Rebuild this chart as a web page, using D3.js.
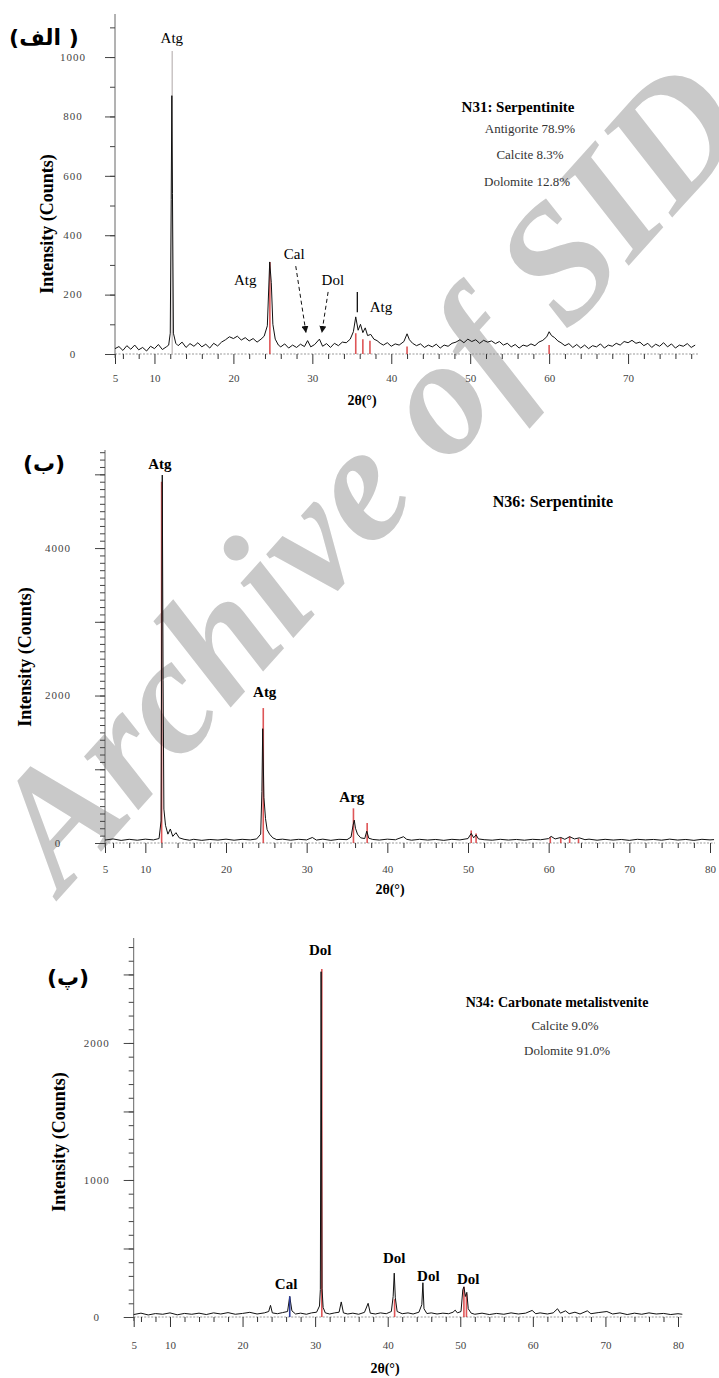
<!DOCTYPE html>
<html>
<head>
<meta charset="utf-8">
<script src="https://cdn.jsdelivr.net/npm/d3@7"></script>
<style>
body { margin: 0; background: #fff; }
svg { display: block; }
</style>
</head>
<body>
<svg id="chart" width="719" height="1378"></svg>
<script>
// ---------- data (2θ in degrees, intensity in counts) ----------

// N31 serpentinite pattern
var trace31 = [[5,18],[5.5,25],[6,12],[6.5,28],[7,16],[7.5,30],[8,14],[8.5,22],[9,10],[9.5,26],[10,18],[10.5,32],[11,15],[11.5,24],[11.8,30],
  [12.0,70],[12.12,520],[12.2,870],[12.28,540],[12.4,70],[12.7,36],[13,28],[13.5,40],[14,22],[14.5,35],[15,26],[15.5,38],[16,24],[16.5,33],[17,20],[17.5,36],[18,27],[18.5,40],
  [19,48],[19.5,58],[20,52],[20.5,60],[21,47],[21.5,55],[22,44],[22.5,52],[23,40],[23.5,50],[23.9,60],[24.3,95],[24.6,310],[24.8,240],[25.0,100],[25.3,50],[25.7,30],
  [26,24],[26.5,34],[27,20],[27.5,30],[28,22],[28.5,33],[29,25],[29.4,45],[29.8,24],[30.3,32],[30.9,50],[31.3,26],[31.8,35],[32.3,22],[32.8,36],[33.3,28],[33.8,40],
  [34.3,38],[34.8,50],[35.2,75],[35.5,125],[35.8,80],[36.1,100],[36.4,72],[36.7,88],[37.0,62],[37.4,66],[37.8,50],[38.2,45],[38.6,36],[39,30],[39.5,38],[40,26],[40.5,34],
  [41,30],[41.6,42],[42.0,68],[42.3,48],[42.7,36],[43.2,28],[43.7,34],[44.2,22],[44.7,30],[45.2,24],[45.7,33],[46.2,20],[46.7,30],[47.2,26],[47.7,36],[48.2,40],[48.7,48],
  [49.2,38],[49.7,50],[50.2,42],[50.7,48],[51.2,36],[51.7,46],[52.2,40],[52.7,44],[53.2,35],[53.7,42],[54.2,30],[54.7,36],[55.2,24],[55.7,32],[56.2,20],[56.7,30],[57.2,26],
  [57.7,34],[58.2,28],[58.7,40],[59.2,46],[59.7,58],[60.0,75],[60.3,62],[60.7,55],[61.1,44],[61.5,38],[62,28],[62.5,35],[63,22],[63.5,32],[64,20],[64.5,30],[65,18],[65.5,28],
  [66,24],[66.5,34],[67,20],[67.5,30],[68,26],[68.5,36],[69,30],[69.5,42],[70,38],[70.5,46],[71,36],[71.5,40],[72,28],[72.5,36],[73,22],[73.5,33],[74,26],[74.5,38],[75,24],
  [75.5,34],[76,20],[76.5,30],[77,26],[77.5,35],[78,22],[78.5,30]];
var ghost31 = [[12.25,1020]];
var ref31 = [[24.62,310],[35.5,70],[36.4,50],[37.3,45],[42.0,25],[60.0,30]];
var yTicks31 = [0,200,400,600,800,1000];
var xTicks31 = [5,10,20,30,40,50,60,70];
var labels31 = [["Atg",12.2,1064],["Atg",21.5,249],["Cal",27.7,337],["Dol",32.6,249],["Atg",38.7,158]];
var arrows31 = [[27.9,296,29.2,71],[32.0,209,31.2,71]];
var marks31 = [[35.7,209,141]];
var info31 = ["Antigorite 78.9%","Calcite 8.3%","Dolomite 12.8%"];

// N36 serpentinite pattern
var trace36 = [[5,40],[6,55],[7,35],[8,50],[9,38],[10,52],[11,42],[11.7,60],[11.95,300],[12.1,4990],[12.2,2200],[12.3,460],[12.5,240],[12.8,120],[13.1,190],[13.4,90],
  [13.8,140],[14.2,70],[14.8,50],[15.5,38],[16,50],[17,36],[18,48],[19,40],[20,52],[21,38],[22,50],[23,42],[23.8,55],[24.3,120],[24.45,700],[24.55,1550],[24.7,620],
  [24.9,330],[25.1,180],[25.4,120],[25.8,70],[26.3,45],[27,52],[28,38],[29,50],[30,42],[30.7,75],[31.2,40],[32,52],[33,36],[34,50],[35,45],[35.5,80],[35.75,240],
  [35.9,310],[36.05,200],[36.3,120],[36.7,70],[37.2,60],[37.45,160],[37.7,65],[38.2,48],[39,40],[40,52],[41,44],[42,85],[42.4,50],[43,38],[44,50],[45,40],[46,48],
  [47,36],[48,50],[49,42],[50,60],[50.4,130],[50.7,70],[51.0,110],[51.3,55],[52,45],[53,38],[54,50],[55,40],[56,48],[57,38],[58,50],[59,44],[60,60],[60.3,90],[60.8,55],
  [61.5,75],[62,50],[62.6,85],[63.2,55],[63.8,70],[64.5,45],[65,52],[66,38],[67,50],[68,40],[69,48],[70,36],[71,50],[72,42],[73,48],[74,38],[75,52],[76,40],[77,48],
  [78,36],[79,50],[80,42],[80.5,46]];
var ref36 = [[12.02,4900],[24.62,1830],[35.8,470],[37.5,270],[50.4,170],[51.0,130],[60.2,80],[61.5,70],[62.6,90],[63.7,60]];
var yTicks36 = [0,2000,4000];
var xTicks36 = [5,10,20,30,40,50,60,70,80];
var labels36 = [["Atg",11.8,5139],["Atg",24.8,2047],["Arg",35.6,624]];

// N34 carbonate pattern
var trace34 = [[5,18],[6,28],[7,15],[8,25],[9,20],[10,30],[11,16],[12,26],[13,20],[14,28],[15,18],[16,30],[17,22],[18,32],[19,20],[20,26],[21,34],[22,22],[23,30],
  [23.6,40],[23.85,85],[24.1,30],[24.8,24],[25.5,32],[26.2,40],[26.5,150],[26.8,45],[27.3,22],[28,28],[28.8,20],[29.5,30],[30.2,35],[30.6,80],[30.72,200],[30.82,2520],
  [30.95,210],[31.1,70],[31.4,30],[32,22],[32.7,30],[33.3,35],[33.6,110],[33.9,30],[34.5,22],[35.2,28],[36,20],[36.8,34],[37.3,100],[37.6,28],[38.3,22],[39,30],[39.8,24],
  [40.5,40],[40.75,150],[40.9,320],[41.05,140],[41.3,40],[42,24],[42.8,30],[43.5,22],[44.3,35],[44.7,90],[44.85,250],[45.0,60],[45.4,25],[46,30],[46.8,22],[47.6,28],
  [48.4,24],[49,35],[49.3,50],[49.6,30],[50.1,40],[50.35,200],[50.5,220],[50.7,150],[50.9,180],[51.1,60],[51.5,28],[52,20],[53,28],[54,18],[55,26],[56,20],[57,30],
  [58,22],[59,28],[59.9,48],[60.4,24],[61,30],[62,22],[62.8,30],[63.4,60],[63.8,28],[64.5,45],[65,24],[65.8,35],[66.5,22],[67.5,45],[68,24],[69,32],[70.2,40],[71,22],
  [72,30],[73,18],[74,28],[75,20],[76,30],[77,22],[78,26],[79,18],[80,24],[80.6,20]];
var ref34 = [[30.92,2540],[40.95,130],[50.5,220],[50.85,170]];
var cal34 = [[26.5,150]];
var yTicks34 = [0,1000,2000];
var xTicks34 = [5,10,20,30,40,50,60,70,80];
var labels34 = [["Dol",30.7,2679],["Cal",26.0,241],["Dol",40.9,431],["Dol",45.6,299],["Dol",51.1,277]];
var info34 = ["Calcite 9.0%","Dolomite 91.0%"];

// ---------- drawing ----------
var serif = '"Liberation Serif","Times New Roman",serif';
var svg = d3.select("#chart");

svg.append("defs").append("marker")
    .attr("id", "arrowhead").attr("viewBox", "0 0 10 10")
    .attr("refX", 10).attr("refY", 5)
    .attr("markerWidth", 7).attr("markerHeight", 7)
    .attr("orient", "auto")
  .append("path").attr("d", "M0,0L10,5L0,10z").attr("fill", "#111");

// background watermark of the scanned page
svg.append("text")
    .attr("transform", "translate(62,895) rotate(-48)")
    .style("font-family", serif).style("font-style", "italic").style("font-weight", "bold")
    .style("font-size", "166px").attr("fill", "#c9c9c9")
    .text("Archive of SID");

function drawPanel(o) {
    var x = d3.scaleLinear().domain([5, 80]).range(o.xRange);
    var y = d3.scaleLinear().domain([0, o.yTop]).range(o.yRange);
    var g = svg.append("g");
    var y0 = y(0), ax = x(5);

    // x axis: dotted baseline + ticks below
    g.append("line")
        .attr("x1", ax).attr("x2", x(o.xEnd)).attr("y1", y0).attr("y2", y0)
        .attr("stroke", "#999").attr("stroke-dasharray", "2,1.5");
    var minorX = d3.range(6, 80, 2).filter(function (d) { return d % 10 !== 0; });
    g.append("g").attr("transform", "translate(0," + y0 + ")")
        .call(d3.axisBottom(x).tickValues(minorX).tickSize(5).tickFormat(""))
        .call(function (s) { s.select(".domain").remove(); s.selectAll("line").attr("stroke", "#333"); });
    g.append("g").attr("transform", "translate(0," + y0 + ")")
        .call(d3.axisBottom(x).tickValues(o.xTicks).tickSize(10).tickPadding(o.xPad).tickFormat(d3.format("d")))
        .call(function (s) {
            s.select(".domain").remove();
            s.selectAll("line").attr("stroke", "#333");
            s.selectAll("text").style("font-family", serif).style("font-size", "11px").attr("fill", "#444");
        });
    g.append("text")
        .attr("x", o.xTitle[0]).attr("y", o.xTitle[1]).attr("text-anchor", "middle").attr("dy", "0.35em")
        .style("font-family", serif).style("font-weight", "bold").style("font-size", "14px")
        .text("2θ(°)");

    // y axis
    g.append("line")
        .attr("x1", ax).attr("x2", ax).attr("y1", y0 + 4).attr("y2", o.yRange[1])
        .attr("stroke", "#666");
    g.append("g").attr("transform", "translate(" + ax + ",0)")
        .call(d3.axisLeft(y).tickValues(d3.range(0, o.yTop, 100)).tickSize(5).tickFormat(""))
        .call(function (s) { s.select(".domain").remove(); s.selectAll("line").attr("stroke", "#444"); });
    g.append("g").attr("transform", "translate(" + ax + ",0)")
        .call(d3.axisLeft(y).tickValues(d3.range(0, o.yTop, o.yMajor)).tickSize(10).tickFormat(""))
        .call(function (s) { s.select(".domain").remove(); s.selectAll("line").attr("stroke", "#444"); });
    g.selectAll(".ylab").data(o.yTicks).join("text")
        .attr("x", ax - o.yLabOff).attr("y", function (d) { return y(d); }).attr("dy", "0.35em")
        .attr("text-anchor", "middle")
        .style("font-family", serif).style("font-size", "11px").style("letter-spacing", "1px").attr("fill", "#444")
        .text(function (d) { return d; });
    g.append("text")
        .attr("transform", "translate(" + o.yTitle[0] + "," + o.yTitle[1] + ") rotate(-90)")
        .attr("text-anchor", "middle").attr("dy", "0.35em")
        .style("font-family", serif).style("font-weight", "bold").style("font-size", "18px")
        .text("Intensity (Counts)");

    // reference sticks
    g.selectAll(".ghost").data(o.ghost || []).join("line")
        .attr("x1", function (d) { return x(d[0]); }).attr("x2", function (d) { return x(d[0]); })
        .attr("y1", y0).attr("y2", function (d) { return y(d[1]); })
        .attr("stroke", "#c9c4c4").attr("stroke-width", 1.5);
    g.selectAll(".ref").data(o.ref).join("line")
        .attr("x1", function (d) { return x(d[0]); }).attr("x2", function (d) { return x(d[0]); })
        .attr("y1", y0).attr("y2", function (d) { return y(d[1]); })
        .attr("stroke", "#d9383a").attr("stroke-width", 1.6).attr("opacity", 0.85);

    // measured pattern
    g.append("path").datum(o.trace)
        .attr("d", d3.line().x(function (d) { return x(d[0]); }).y(function (d) { return y(d[1]); }))
        .attr("fill", "none").attr("stroke", "#111").attr("stroke-width", 1);

    g.selectAll(".blue").data(o.blue || []).join("line")
        .attr("x1", function (d) { return x(d[0]); }).attr("x2", function (d) { return x(d[0]); })
        .attr("y1", y0).attr("y2", function (d) { return y(d[1]); })
        .attr("stroke", "#2b3a9a").attr("stroke-width", 1.6);

    // peak labels
    g.selectAll(".plab").data(o.labels).join("text")
        .attr("x", function (d) { return x(d[1]); }).attr("y", function (d) { return y(d[2]); })
        .attr("text-anchor", "middle").attr("dy", "0.35em")
        .style("font-family", serif).style("font-weight", o.labelWeight).style("font-size", "15px")
        .text(function (d) { return d[0]; });

    g.selectAll(".arr").data(o.arrows || []).join("line")
        .attr("x1", function (d) { return x(d[0]); }).attr("y1", function (d) { return y(d[1]); })
        .attr("x2", function (d) { return x(d[2]); }).attr("y2", function (d) { return y(d[3]); })
        .attr("stroke", "#111").attr("stroke-dasharray", "4,3").attr("marker-end", "url(#arrowhead)");
    g.selectAll(".mk").data(o.marks || []).join("line")
        .attr("x1", function (d) { return x(d[0]); }).attr("x2", function (d) { return x(d[0]); })
        .attr("y1", function (d) { return y(d[1]); }).attr("y2", function (d) { return y(d[2]); })
        .attr("stroke", "#111").attr("stroke-width", 1.3);

    // sample caption
    g.append("text")
        .attr("x", o.title[0]).attr("y", o.title[1]).attr("text-anchor", "middle").attr("dy", "0.35em")
        .style("font-family", serif).style("font-weight", "bold").style("font-size", o.titleSize + "px")
        .text(o.title[2]);
    g.selectAll(".info").data(o.info || []).join("text")
        .attr("x", function (d, i) { return o.infoPos[i][0]; }).attr("y", function (d, i) { return o.infoPos[i][1]; })
        .attr("text-anchor", "middle").attr("dy", "0.35em")
        .style("font-family", serif).style("font-size", "13px").attr("fill", "#333")
        .text(function (d) { return d; });

    // panel letter (Persian)
    g.append("text")
        .attr("x", o.tag[0]).attr("y", o.tag[1]).attr("text-anchor", "middle").attr("dy", "0.35em")
        .style("font-family", '"DejaVu Sans",sans-serif').style("font-weight", "bold").style("font-size", "22px")
        .text(o.tag[2]);
}

drawPanel({
    trace: trace31, ref: ref31, ghost: ghost31, labels: labels31, arrows: arrows31, marks: marks31,
    xRange: [115, 707], xEnd: 79, xTicks: xTicks31, xPad: 10, xTitle: [362, 400],
    yTop: 1145, yRange: [354, 14], yMajor: 200, yTicks: yTicks31, yLabOff: 42, yTitle: [47, 224],
    labelWeight: "normal", title: [518, 107, "N31: Serpentinite"], titleSize: 15,
    info: info31, infoPos: [[530, 128], [530, 154], [527, 181]], tag: [44, 37, "(الف )"]
});
drawPanel({
    trace: trace36, ref: ref36, labels: labels36,
    xRange: [105, 710], xEnd: 80.6, xTicks: xTicks36, xPad: 12, xTitle: [390, 889],
    yTop: 5330, yRange: [843, 450], yMajor: 1000, yTicks: yTicks36, yLabOff: 47, yTitle: [25, 657],
    labelWeight: "bold", title: [553, 501, "N36: Serpentinite"], titleSize: 16,
    tag: [44, 463, "(ب)"]
});
drawPanel({
    trace: trace34, ref: ref34, blue: cal34, labels: labels34,
    xRange: [133.7, 678], xEnd: 80.7, xTicks: xTicks34, xPad: 14, xTitle: [385, 1368],
    yTop: 2766, yRange: [1317, 938], yMajor: 500, yTicks: yTicks34, yLabOff: 37, yTitle: [59, 1142],
    labelWeight: "bold", title: [557, 1002, "N34: Carbonate metalistvenite"], titleSize: 14,
    info: info34, infoPos: [[565, 1025], [567, 1050]], tag: [68, 977, "(پ)"]
});
</script>
</body>
</html>
